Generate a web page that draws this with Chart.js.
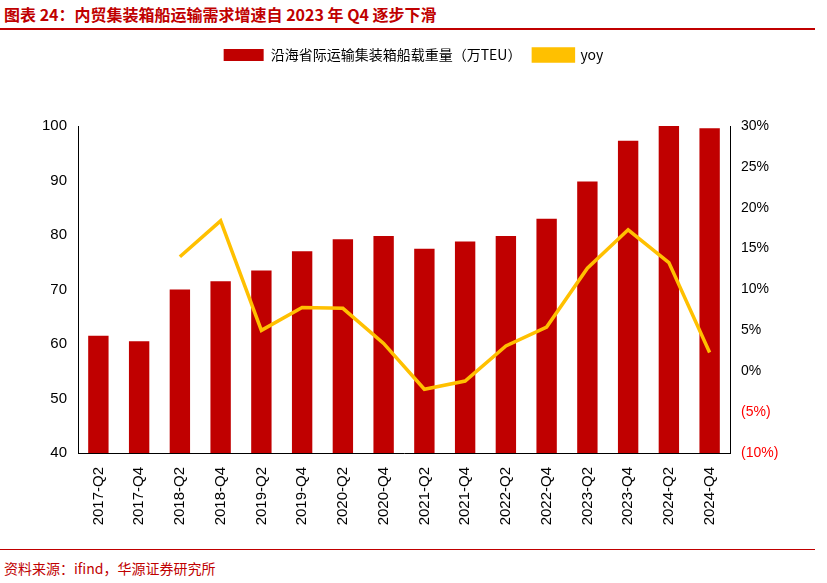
<!DOCTYPE html>
<html><head><meta charset="utf-8">
<script src="https://cdn.jsdelivr.net/npm/chart.js"></script>
<style>
body{margin:0;width:827px;height:583px;background:#fff;font-family:"Noto Sans CJK SC",sans-serif;position:relative;overflow:hidden}
#t{position:absolute;left:4px;top:2px;font-size:16px;font-weight:bold;color:#c00000}
#l1{position:absolute;left:0;top:28px;width:815px;height:2px;background:#c00000}
#l2{position:absolute;left:0;top:549px;width:815px;height:1px;background:#c00000}
#f{position:absolute;left:4px;top:558px;font-size:14px;color:#c00000}
#w{position:absolute;left:0;top:36px;width:815px;height:510px}
</style></head><body>
<div id="t">图表 24：内贸集装箱船运输需求增速自 2023 年 Q4 逐步下滑</div>
<div id="l1"></div>
<div id="w"><canvas id="c"></canvas></div>
<div id="l2"></div>
<div id="f">资料来源：ifind，华源证券研究所</div>
<script>
const categories=["2017-Q2","2017-Q4","2018-Q2","2018-Q4","2019-Q2","2019-Q4","2020-Q2","2020-Q4","2021-Q2","2021-Q4","2022-Q2","2022-Q4","2023-Q2","2023-Q4","2024-Q2","2024-Q4"];
const volume=[61.5,60.5,70,71.5,73.5,77,79.2,79.8,77.5,78.8,79.8,83,89.8,97.3,100,99.6];
const yoy=[null,null,14.0,18.4,5.0,7.8,7.7,3.4,-2.2,-1.2,3.1,5.4,12.6,17.3,13.3,2.3];
Chart.defaults.font.family="Arial, Liberation Sans, sans-serif";
Chart.defaults.color="#000";
new Chart(document.getElementById('c'),{
data:{labels:categories,datasets:[
{type:'line',label:'yoy',data:yoy,yAxisID:'y1',borderColor:'#ffc000',backgroundColor:'#ffc000',borderWidth:3.5,pointRadius:0,tension:0,order:0},
{type:'bar',label:'沿海省际运输集装箱船载重量（万TEU）',data:volume,yAxisID:'y',backgroundColor:'#c00000',barPercentage:0.5,categoryPercentage:1,order:1}
]},
options:{responsive:true,maintainAspectRatio:false,animation:false,
layout:{padding:{left:20,right:8,top:0,bottom:0}},
plugins:{legend:{reverse:true,afterFit:function(){},labels:{font:{size:14,family:"Noto Sans CJK SC"},boxWidth:40,boxHeight:12,padding:12}},tooltip:{enabled:false}},
scales:{
x:{grid:{display:false},border:{color:'#000'},afterFit:s=>{s.height=93},ticks:{maxRotation:90,minRotation:90,padding:6,font:{size:15}}},
y:{position:'left',min:40,max:100,afterFit:s=>{s.width=58},ticks:{stepSize:10,font:{size:15}},grid:{display:false},border:{color:'#000'}},
y1:{position:'right',min:-10,max:30,afterFit:s=>{s.width=77},ticks:{stepSize:5,font:{size:14},color:c=>c.tick.value<0?'#ff0000':'#000',callback:v=>v<0?'('+(-v)+'%)':v+'%'},grid:{display:false},border:{color:'#000'}}
}},
plugins:[{id:'lh',beforeInit(ch){const f=ch.legend.fit;ch.legend.fit=function(){f.call(this);this.height=90;};}}]
});
</script></body></html>
